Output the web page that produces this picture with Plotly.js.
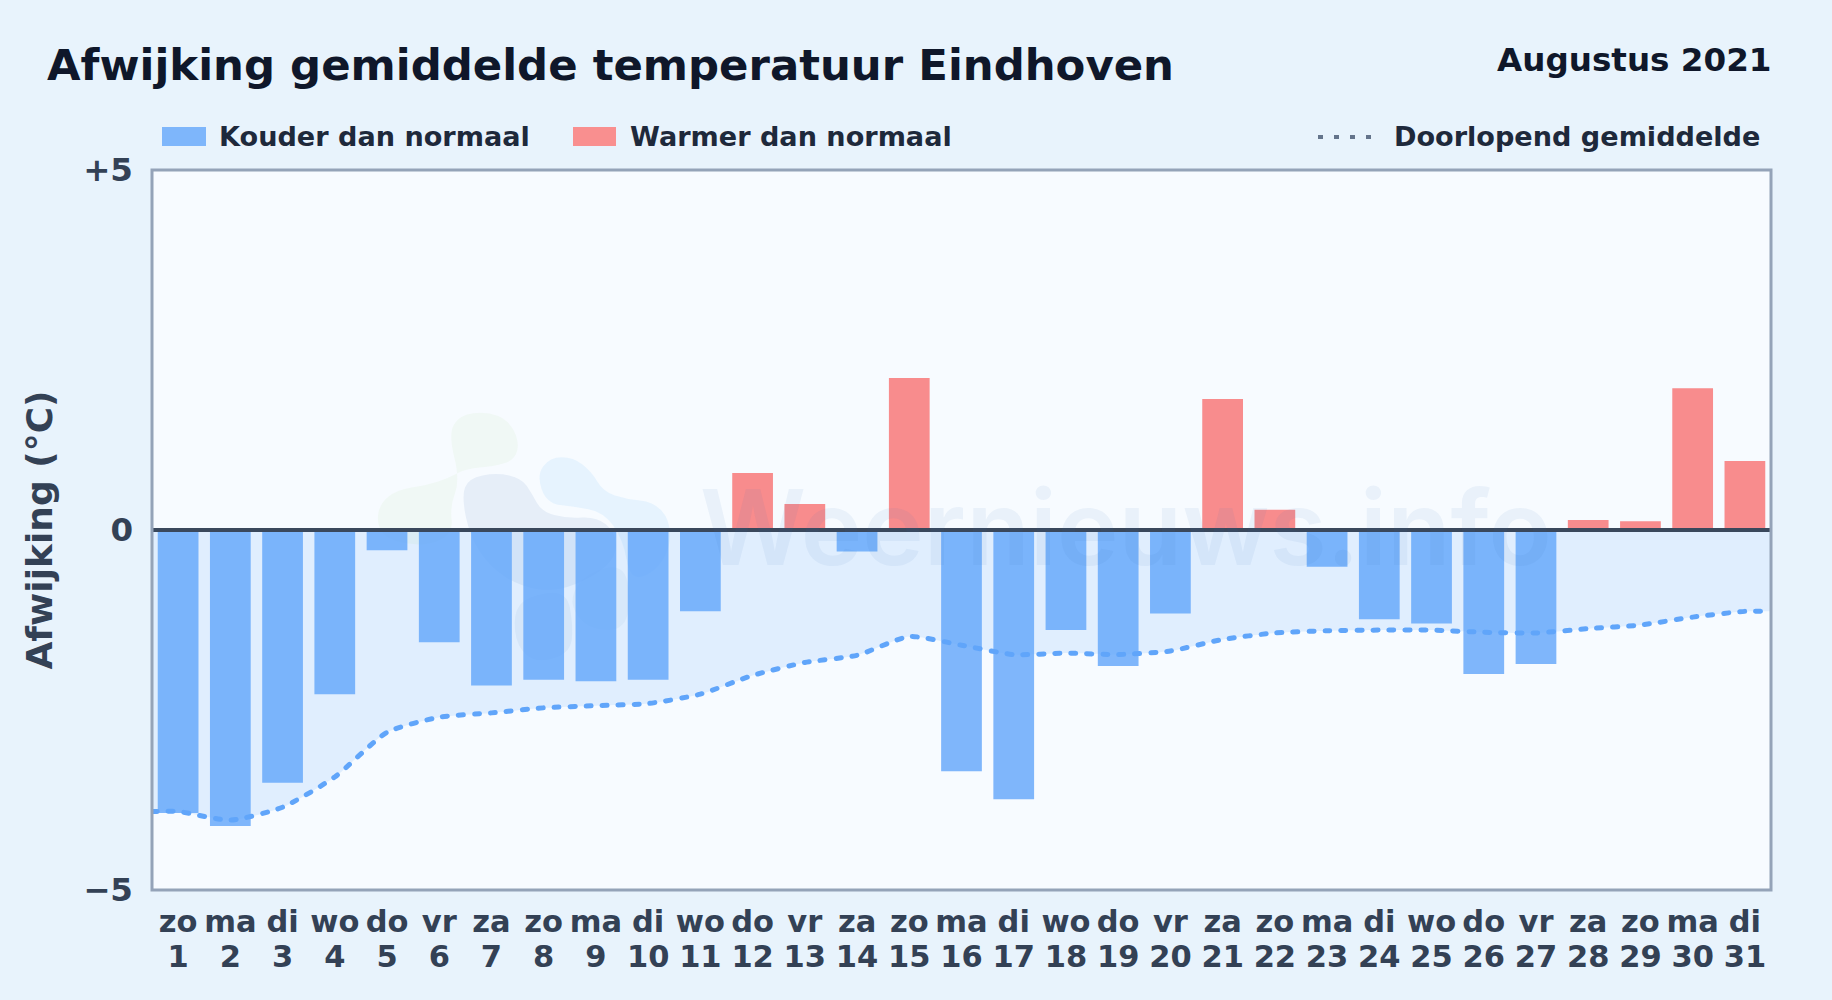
<!DOCTYPE html>
<html><head><meta charset="utf-8">
<script src="https://cdn.plot.ly/plotly-3.0.1.min.js"></script>
<style>html,body{margin:0;padding:0;background:#e8f3fc}#chart{width:1832px;height:1000px}
.scatterlayer .js-line{stroke-linecap:round}</style>
</head><body><div id="chart"></div>
<script>
const days = [1,2,3,4,5,6,7,8,9,10,11,12,13,14,15,16,17,18,19,20,21,22,23,24,25,26,27,28,29,30,31];
const weekdays = ['zo','ma','di','wo','do','vr','za','zo','ma','di','wo','do','vr','za','zo','ma','di','wo','do','vr','za','zo','ma','di','wo','do','vr','za','zo','ma','di'];
const deviation = [-3.93,-4.11,-3.51,-2.28,-0.28,-1.56,-2.16,-2.08,-2.10,-2.08,-1.13,0.79,0.36,-0.30,2.11,-3.35,-3.74,-1.39,-1.89,-1.16,1.82,0.28,-0.51,-1.24,-1.30,-2.00,-1.86,0.14,0.12,1.97,0.96];
const runningX = [0.5,1,2,3,4,5,6,7,8,9,10,11,12,13,14,15,16,17,18,19,20,21,22,23,24,25,26,27,28,29,30,31,31.5];
const runningMean = [-3.91,-3.91,-4.03,-3.85,-3.43,-2.81,-2.60,-2.54,-2.47,-2.44,-2.41,-2.28,-2.02,-1.84,-1.74,-1.48,-1.60,-1.73,-1.71,-1.73,-1.68,-1.52,-1.43,-1.40,-1.39,-1.39,-1.42,-1.43,-1.37,-1.32,-1.21,-1.13,-1.13];
const yTicks = [-5,0,5];
const yTickLabels = ['−5','0','+5'];

const W = 1832, H = 1000, L = 152, R = 61, T = 170, B = 110;
const px = v => (v - L) / (W - L - R), py = v => (H - B - v) / (H - T - B);
const FONT = 'DejaVu Sans';
const bold = (size, color) => ({family: FONT, size, color, weight: 700});
const txt = (x, y, text, size, color, anchor) => ({
  xref:'paper', yref:'paper', x:px(x), y:py(y), text, showarrow:false, xanchor:anchor, yanchor:'middle',
  font:bold(size,color), borderpad:0
});
// watermark logo: smooth closed blob through image-pixel points
function blob(pts, fill){
  const n = pts.length; let d = '';
  const mid = (a,b)=>[(a[0]+b[0])/2,(a[1]+b[1])/2];
  const P = p => `${px(p[0]).toFixed(5)},${py(p[1]).toFixed(5)}`;
  d = 'M' + P(mid(pts[n-1],pts[0]));
  for(let i=0;i<n;i++){ d += ' Q' + P(pts[i]) + ' ' + P(mid(pts[i],pts[(i+1)%n])); }
  return {type:'path', xref:'paper', yref:'paper', path:d+' Z', fillcolor:fill, line:{width:0}, layer:'below'};
}
const z = a => a.map(p=>[p[0]/3+360,p[1]/3+400]);
const logoGreen = z([[265,100],[300,45],[380,35],[445,60],[478,125],[465,180],[400,200],[320,205],[265,235],[200,255],[110,270],[60,310],[50,370],[80,420],[200,440],[280,400],[270,320],[300,240]]);
const logoSlate = z([[305,290],[325,235],[410,218],[485,235],[515,280],[545,335],[620,355],[710,350],[765,395],[770,470],[700,530],[590,575],[480,560],[390,500],[330,410]]);
const logoBlue = z([[530,225],[570,172],[640,172],[695,215],[730,275],[800,298],[880,305],[930,360],[930,450],[880,520],[810,540],[790,420],[730,335],[640,320],[560,310]]);
const logoBlue2 = z([[630,590],[680,520],[790,490],[815,600],[790,690],[700,690],[650,650]]);
const logoSlate2 = z([[460,640],[500,590],[620,570],[640,680],[630,760],[530,790],[470,740]]);

const traces = [
  {type:'scatter', mode:'lines', x:runningX, y:runningMean, xaxis:'x', yaxis:'y', fill:'tozeroy',
   fillcolor:'rgba(96,165,250,0.15)', line:{width:0, shape:'spline', smoothing:0.6}, hoverinfo:'skip', showlegend:false},
  {type:'bar', x:days, y:deviation, xaxis:'x2', yaxis:'y2', width:0.78,
   marker:{color:deviation.map(v=>v<0?'#60a5fa':'#f87171'), opacity:0.8, line:{width:0}}, showlegend:false},
  {type:'scatter', mode:'lines', x:runningX, y:runningMean, xaxis:'x2', yaxis:'y2',
   line:{color:'#60a5fa', width:5, dash:'5px,11px', shape:'spline', smoothing:0.6}, showlegend:false}
];
const layout = {
  width:W, height:H, paper_bgcolor:'#e8f3fc', plot_bgcolor:'#f7fbff',
  margin:{l:L,r:R,t:T,b:B,pad:0}, showlegend:false, barmode:'overlay',
  xaxis:{range:[0.5,31.5], tickmode:'array', tickvals:days, ticktext:weekdays, ticklen:0, showgrid:false, zeroline:false,
    showline:false, tickfont:bold(30.5,'#334155'), ticklabelstandoff:10, tickangle:0, fixedrange:true},
  yaxis:{range:[-5,5], tickmode:'array', tickvals:yTicks, ticktext:yTickLabels, ticklen:0, showgrid:false, zeroline:false,
    showline:false, tickfont:bold(32.5,'#334155'), ticklabelstandoff:18, fixedrange:true,
    title:{text:'Afwijking (°C)', font:bold(36,'#334155'), standoff:19}},
  xaxis2:{range:[0.5,31.5], overlaying:'x', anchor:'y2', side:'bottom', tickmode:'array', tickvals:days, ticktext:days.map(String), ticklen:0,
    showgrid:false, zeroline:false, showline:false, tickfont:bold(30.5,'#334155'), ticklabelstandoff:45, tickangle:0, fixedrange:true},
  yaxis2:{range:[-5,5], overlaying:'y', anchor:'x2', side:'left', showticklabels:false, ticklen:0, showgrid:false, zeroline:false, showline:false, fixedrange:true},
  shapes:[
    blob(logoGreen,'rgba(170,215,130,0.08)'), blob(logoSlate,'rgba(90,130,190,0.10)'), blob(logoBlue,'rgba(90,175,250,0.10)'),
    blob(logoBlue2,'rgba(90,130,190,0.06)'), blob(logoSlate2,'rgba(90,130,190,0.08)'),
    {type:'line', xref:'paper', yref:'y', x0:0, x1:1, y0:0, y1:0, line:{color:'#3a485c', width:4}, layer:'above'},
    {type:'rect', xref:'paper', yref:'paper', x0:0, x1:1, y0:0, y1:1, fillcolor:'rgba(0,0,0,0)', line:{color:'#94a3b8', width:3}, layer:'above'},
    {type:'rect', xref:'paper', yref:'paper', x0:px(162), x1:px(206), y0:py(127), y1:py(146), fillcolor:'#7eb6fb', line:{width:0}},
    {type:'rect', xref:'paper', yref:'paper', x0:px(573), x1:px(616), y0:py(127), y1:py(146), fillcolor:'#f98f8f', line:{width:0}},
    {type:'line', xref:'paper', yref:'paper', x0:px(1318), x1:px(1374), y0:py(137), y1:py(137), line:{color:'#64748b', width:4, dash:'5px,11px'}}
  ],
  annotations:[
    txt(46,65,'Afwijking gemiddelde temperatuur Eindhoven',43.4,'#0f172a','left'),
    txt(1772,60,'Augustus 2021',32.6,'#0f172a','right'),
    txt(218,137,'Kouder dan normaal',27.1,'#1e293b','left'),
    txt(629,137,'Warmer dan normaal',27.1,'#1e293b','left'),
    txt(1761,137,'Doorlopend gemiddelde',27.1,'#1e293b','right'),
    {xref:'paper', yref:'paper', x:px(1126), y:py(527), text:'Weernieuws.info', showarrow:false, xanchor:'center', yanchor:'middle',
     font:{family:'Inter', size:104, weight:600, color:'rgba(50,110,190,0.07)'}}
  ]
};
Plotly.newPlot('chart', traces, layout, {displayModeBar:false, staticPlot:true});
</script></body></html>
